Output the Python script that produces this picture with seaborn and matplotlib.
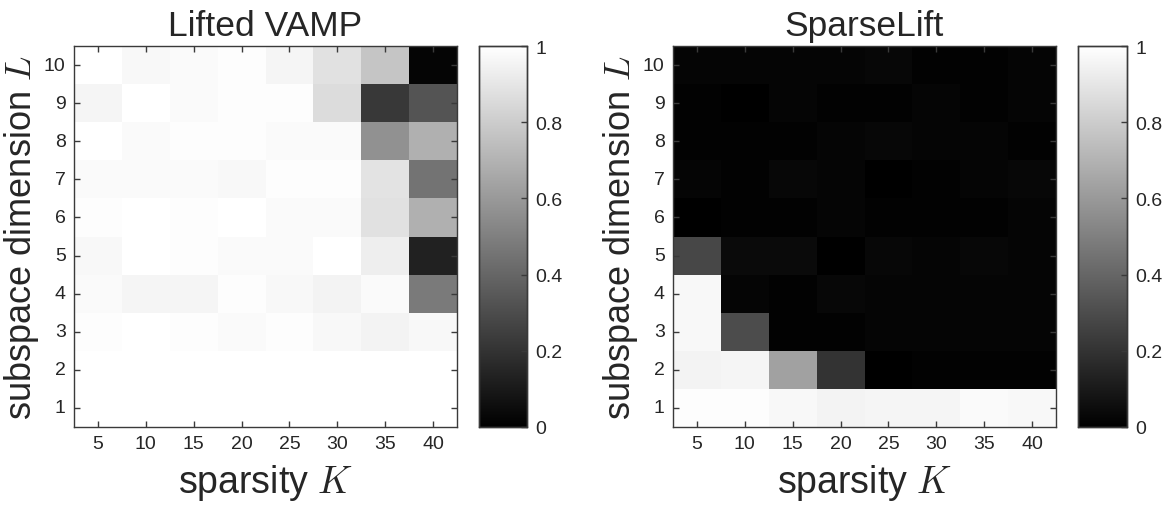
import numpy as np
import pandas as pd
import matplotlib
matplotlib.use("Agg")
import matplotlib.pyplot as plt
import seaborn as sns

K_values = [5, 10, 15, 20, 25, 30, 35, 40]
L_values = [10, 9, 8, 7, 6, 5, 4, 3, 2, 1]  # top to bottom

# Success rate, Lifted VAMP (rows L=10 .. L=1)
vamp = [
    [1.00, 0.97, 0.98, 0.99, 0.96, 0.88, 0.77, 0.02],
    [0.96, 1.00, 0.98, 0.99, 0.99, 0.86, 0.22, 0.33],
    [1.00, 0.98, 0.99, 0.99, 0.98, 0.98, 0.57, 0.69],
    [0.98, 0.98, 0.98, 0.97, 0.99, 0.99, 0.89, 0.45],
    [0.99, 1.00, 0.99, 1.00, 0.98, 0.98, 0.88, 0.69],
    [0.97, 1.00, 0.99, 0.98, 0.98, 1.00, 0.93, 0.13],
    [0.98, 0.96, 0.96, 0.99, 0.97, 0.95, 0.98, 0.48],
    [0.99, 1.00, 0.99, 0.98, 0.99, 0.97, 0.95, 0.97],
    [1.00, 1.00, 1.00, 1.00, 1.00, 1.00, 1.00, 1.00],
    [1.00, 1.00, 1.00, 1.00, 1.00, 1.00, 1.00, 1.00],
]

# Success rate, SparseLift (rows L=10 .. L=1)
sparselift = [
    [0.02, 0.02, 0.02, 0.02, 0.03, 0.01, 0.01, 0.02],
    [0.01, 0.00, 0.02, 0.01, 0.01, 0.02, 0.01, 0.02],
    [0.01, 0.01, 0.01, 0.02, 0.03, 0.02, 0.02, 0.01],
    [0.02, 0.01, 0.03, 0.02, 0.00, 0.01, 0.02, 0.03],
    [0.00, 0.01, 0.01, 0.02, 0.01, 0.01, 0.01, 0.02],
    [0.28, 0.04, 0.04, 0.00, 0.03, 0.02, 0.03, 0.02],
    [0.97, 0.02, 0.01, 0.03, 0.02, 0.02, 0.02, 0.02],
    [0.97, 0.30, 0.01, 0.01, 0.02, 0.02, 0.02, 0.02],
    [0.95, 0.96, 0.63, 0.20, 0.00, 0.01, 0.01, 0.01],
    [0.99, 0.99, 0.97, 0.95, 0.96, 0.96, 0.98, 0.97],
]

titles = ["Lifted VAMP", "SparseLift"]
cbar_ticks = [0, 0.2, 0.4, 0.6, 0.8, 1]
cbar_labels = ["0", "0.2", "0.4", "0.6", "0.8", "1"]

sns.set_theme(style="white")
plt.rcParams["font.family"] = ["Liberation Sans", "DejaVu Sans"]
plt.rcParams["mathtext.fontset"] = "cm"

W, H = 1167, 510
fig = plt.figure(figsize=(W / 100, H / 100), dpi=100)

def fr(x0, y0, x1, y1):
    return [x0 / W, 1 - y1 / H, (x1 - x0) / W, (y1 - y0) / H]

axes_boxes = [fr(74, 47, 457, 428), fr(673, 47, 1056, 428)]
cbar_boxes = [fr(479, 47, 527, 428), fr(1078, 47, 1127, 428)]

edge = "#3a3a3a"
for data, title, abox, cbox in zip([vamp, sparselift], titles, axes_boxes, cbar_boxes):
    ax = fig.add_axes(abox)
    cax = fig.add_axes(cbox)
    df = pd.DataFrame(data, index=L_values, columns=K_values)
    sns.heatmap(df, ax=ax, cbar_ax=cax, cmap="gray", vmin=0, vmax=1,
                square=False, linewidths=0)
    ax.set_axisbelow(False)
    cax.set_axisbelow(False)
    ax.set_title(title, fontsize=25.5, pad=8)
    ax.set_xlabel("sparsity $K$", fontsize=27, labelpad=7)
    ax.set_ylabel("subspace dimension $L$", fontsize=26, labelpad=2)
    ax.set_xticklabels([str(k) for k in K_values], rotation=0)
    ax.set_yticklabels([str(l) for l in L_values], rotation=0)
    ax.tick_params(axis="both", direction="in", length=4, width=1,
                   color=edge, labelsize=14, labelcolor="#262626",
                   top=True, right=True, bottom=True, left=True, pad=6)
    for s in ax.spines.values():
        s.set_visible(True)
        s.set_color(edge)
        s.set_linewidth(1)
    cax.set_yticks(cbar_ticks)
    cax.set_yticklabels(cbar_labels)
    cax.tick_params(axis="y", direction="in", length=4, width=1, color=edge,
                    labelsize=14, labelcolor="#262626", right=True, pad=6)
    for s in cax.spines.values():
        s.set_visible(True)
        s.set_color(edge)
        s.set_linewidth(1)
    cax.set_frame_on(True)

fig.savefig("out.png", dpi=100)
